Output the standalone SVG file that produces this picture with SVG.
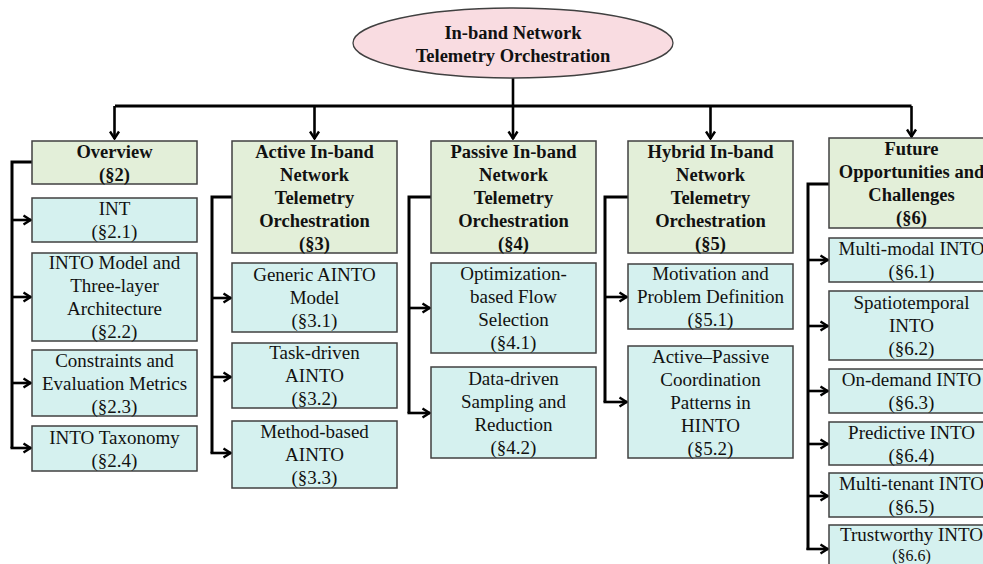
<svg xmlns="http://www.w3.org/2000/svg" width="983" height="564" viewBox="0 0 983 564">
<style>
.bg{fill:#ffffff}
.root{fill:#f9dce1;stroke:#404040;stroke-width:1.3}
.par{fill:#e3efd9;stroke:#404040;stroke-width:1.5}
.chd{fill:#d5f1ef;stroke:#404040;stroke-width:1.5}
text{font-family:'Liberation Serif','Times New Roman',Times,serif}
.tb{font-weight:bold;font-size:18.5px;fill:#111;text-anchor:middle}
.tr{font-size:19px;fill:#111;text-anchor:middle}
.ln{fill:none;stroke:#000;stroke-width:3}
.ar{fill:none;stroke:#000;stroke-width:2.6;marker-end:url(#ah)}
</style>
<defs>
<marker id="ah" viewBox="0 0 10 12" refX="9" refY="6" markerWidth="10" markerHeight="12" markerUnits="userSpaceOnUse" orient="auto">
<path d="M1.5,1.5 L8.5,6 L1.5,10.5" fill="none" stroke="#000" stroke-width="2.4"/>
</marker>
</defs>
<rect class="bg" x="0" y="0" width="983" height="564"/>

<g id="connectors">
<line class="ln" x1="115" y1="106" x2="911.5" y2="106"/>
<line class="ar" x1="513" y1="78" x2="513" y2="139"/>
<line class="ar" x1="114.5" y1="106" x2="114.5" y2="139"/>
<line class="ar" x1="314.5" y1="106" x2="314.5" y2="139"/>
<line class="ar" x1="710.5" y1="106" x2="710.5" y2="139"/>
<line class="ar" x1="911.5" y1="106" x2="911.5" y2="137"/>

<polyline class="ln" points="32,162 12,162 12,448"/>
<line class="ar" x1="12" y1="220" x2="31" y2="220"/>
<line class="ar" x1="12" y1="297" x2="31" y2="297"/>
<line class="ar" x1="12" y1="383" x2="31" y2="383"/>
<line class="ar" x1="10.5" y1="448" x2="31" y2="448"/>

<polyline class="ln" points="232,197 212,197 212,453"/>
<line class="ar" x1="212" y1="298" x2="231" y2="298"/>
<line class="ar" x1="212" y1="377" x2="231" y2="377"/>
<line class="ar" x1="210.5" y1="453" x2="231" y2="453"/>

<polyline class="ln" points="431,197 409,197 409,413"/>
<line class="ar" x1="409" y1="308" x2="430" y2="308"/>
<line class="ar" x1="407.5" y1="413" x2="430" y2="413"/>

<polyline class="ln" points="628,197 605,197 605,402"/>
<line class="ar" x1="605" y1="297" x2="627" y2="297"/>
<line class="ar" x1="603.5" y1="402" x2="627" y2="402"/>

<polyline class="ln" points="829,184 808,184 808,550"/>
<line class="ar" x1="808" y1="260" x2="828" y2="260"/>
<line class="ar" x1="808" y1="326" x2="828" y2="326"/>
<line class="ar" x1="808" y1="391" x2="828" y2="391"/>
<line class="ar" x1="808" y1="444" x2="828" y2="444"/>
<line class="ar" x1="808" y1="496" x2="828" y2="496"/>
<line class="ar" x1="806.5" y1="549" x2="828" y2="549"/>
</g>

<g id="root">
<ellipse class="root" cx="513" cy="43" rx="160" ry="35"/>
<text class="tb" x="513" y="38.5">In-band Network</text>
<text class="tb" x="513" y="62">Telemetry Orchestration</text>
</g>

<g id="overview">
<rect class="par" x="32" y="141" width="165" height="43"/>
<text class="tb" x="114.5" y="157.5">Overview</text>
<text class="tb" x="114.5" y="180.5">(§2)</text>
</g>
<g id="int">
<rect class="chd" x="32" y="198" width="165" height="44"/>
<text class="tr" x="114.5" y="215">INT</text>
<text class="tr" x="114.5" y="238">(§2.1)</text>
</g>
<g id="into-model">
<rect class="chd" x="32" y="253" width="165" height="88"/>
<text class="tr" x="114.5" y="269">INTO Model and</text>
<text class="tr" x="114.5" y="292">Three-layer</text>
<text class="tr" x="114.5" y="315">Architecture</text>
<text class="tr" x="114.5" y="338">(§2.2)</text>
</g>
<g id="constraints">
<rect class="chd" x="32" y="350" width="165" height="66"/>
<text class="tr" x="114.5" y="366.5">Constraints and</text>
<text class="tr" x="114.5" y="389.5">Evaluation Metrics</text>
<text class="tr" x="114.5" y="412.5">(§2.3)</text>
</g>
<g id="taxonomy">
<rect class="chd" x="32" y="426" width="165" height="45"/>
<text class="tr" x="114.5" y="443.5">INTO Taxonomy</text>
<text class="tr" x="114.5" y="466.5">(§2.4)</text>
</g>

<g id="active">
<rect class="par" x="232" y="141" width="165" height="112"/>
<text class="tb" x="314.5" y="157.5">Active In-band</text>
<text class="tb" x="314.5" y="180.5">Network</text>
<text class="tb" x="314.5" y="203.5">Telemetry</text>
<text class="tb" x="314.5" y="226.5">Orchestration</text>
<text class="tb" x="314.5" y="249.5">(§3)</text>
</g>
<g id="generic">
<rect class="chd" x="232" y="263" width="165" height="69"/>
<text class="tr" x="314.5" y="281">Generic AINTO</text>
<text class="tr" x="314.5" y="304">Model</text>
<text class="tr" x="314.5" y="327">(§3.1)</text>
</g>
<g id="task-driven">
<rect class="chd" x="232" y="343" width="165" height="65"/>
<text class="tr" x="314.5" y="359">Task-driven</text>
<text class="tr" x="314.5" y="382">AINTO</text>
<text class="tr" x="314.5" y="405">(§3.2)</text>
</g>
<g id="method-based">
<rect class="chd" x="232" y="421" width="165" height="67"/>
<text class="tr" x="314.5" y="438">Method-based</text>
<text class="tr" x="314.5" y="461">AINTO</text>
<text class="tr" x="314.5" y="484">(§3.3)</text>
</g>

<g id="passive">
<rect class="par" x="431" y="141" width="165" height="112"/>
<text class="tb" x="513.5" y="157.5">Passive In-band</text>
<text class="tb" x="513.5" y="180.5">Network</text>
<text class="tb" x="513.5" y="203.5">Telemetry</text>
<text class="tb" x="513.5" y="226.5">Orchestration</text>
<text class="tb" x="513.5" y="249.5">(§4)</text>
</g>
<g id="optimization">
<rect class="chd" x="431" y="263" width="165" height="90"/>
<text class="tr" x="513.5" y="280">Optimization-</text>
<text class="tr" x="513.5" y="303">based Flow</text>
<text class="tr" x="513.5" y="326">Selection</text>
<text class="tr" x="513.5" y="349">(§4.1)</text>
</g>
<g id="data-driven">
<rect class="chd" x="431" y="367" width="165" height="91"/>
<text class="tr" x="513.5" y="384.5">Data-driven</text>
<text class="tr" x="513.5" y="407.5">Sampling and</text>
<text class="tr" x="513.5" y="430.5">Reduction</text>
<text class="tr" x="513.5" y="453.5">(§4.2)</text>
</g>

<g id="hybrid">
<rect class="par" x="628" y="141" width="165" height="112"/>
<text class="tb" x="710.5" y="157.5">Hybrid In-band</text>
<text class="tb" x="710.5" y="180.5">Network</text>
<text class="tb" x="710.5" y="203.5">Telemetry</text>
<text class="tb" x="710.5" y="226.5">Orchestration</text>
<text class="tb" x="710.5" y="249.5">(§5)</text>
</g>
<g id="motivation">
<rect class="chd" x="628" y="264" width="165" height="65"/>
<text class="tr" x="710.5" y="280">Motivation and</text>
<text class="tr" x="710.5" y="303">Problem Definition</text>
<text class="tr" x="710.5" y="326">(§5.1)</text>
</g>
<g id="coordination">
<rect class="chd" x="628" y="346" width="165" height="112"/>
<text class="tr" x="710.5" y="362.5">Active–Passive</text>
<text class="tr" x="710.5" y="385.5">Coordination</text>
<text class="tr" x="710.5" y="408.5">Patterns in</text>
<text class="tr" x="710.5" y="431.5">HINTO</text>
<text class="tr" x="710.5" y="454.5">(§5.2)</text>
</g>

<g id="future">
<rect class="par" x="829" y="138" width="165" height="90"/>
<text class="tb" x="911.5" y="155">Future</text>
<text class="tb" x="911.5" y="178">Opportunities and</text>
<text class="tb" x="911.5" y="201">Challenges</text>
<text class="tb" x="911.5" y="224">(§6)</text>
</g>
<g id="multi-modal">
<rect class="chd" x="829" y="238" width="165" height="44"/>
<text class="tr" x="911.5" y="255">Multi-modal INTO</text>
<text class="tr" x="911.5" y="278">(§6.1)</text>
</g>
<g id="spatiotemporal">
<rect class="chd" x="829" y="291" width="165" height="69"/>
<text class="tr" x="911.5" y="309">Spatiotemporal</text>
<text class="tr" x="911.5" y="332">INTO</text>
<text class="tr" x="911.5" y="355">(§6.2)</text>
</g>
<g id="on-demand">
<rect class="chd" x="829" y="369" width="165" height="44"/>
<text class="tr" x="911.5" y="386">On-demand INTO</text>
<text class="tr" x="911.5" y="409">(§6.3)</text>
</g>
<g id="predictive">
<rect class="chd" x="829" y="422" width="165" height="43"/>
<text class="tr" x="911.5" y="438.5">Predictive INTO</text>
<text class="tr" x="911.5" y="461.5">(§6.4)</text>
</g>
<g id="multi-tenant">
<rect class="chd" x="829" y="473" width="165" height="44"/>
<text class="tr" x="911.5" y="490">Multi-tenant INTO</text>
<text class="tr" x="911.5" y="513">(§6.5)</text>
</g>
<g id="trustworthy">
<rect class="chd" x="829" y="525" width="165" height="44"/>
<text class="tr" x="911.5" y="541">Trustworthy INTO</text>
<text class="tr" x="911.5" y="560.5" style="font-size:16px">(§6.6)</text>
</g>
</svg>
